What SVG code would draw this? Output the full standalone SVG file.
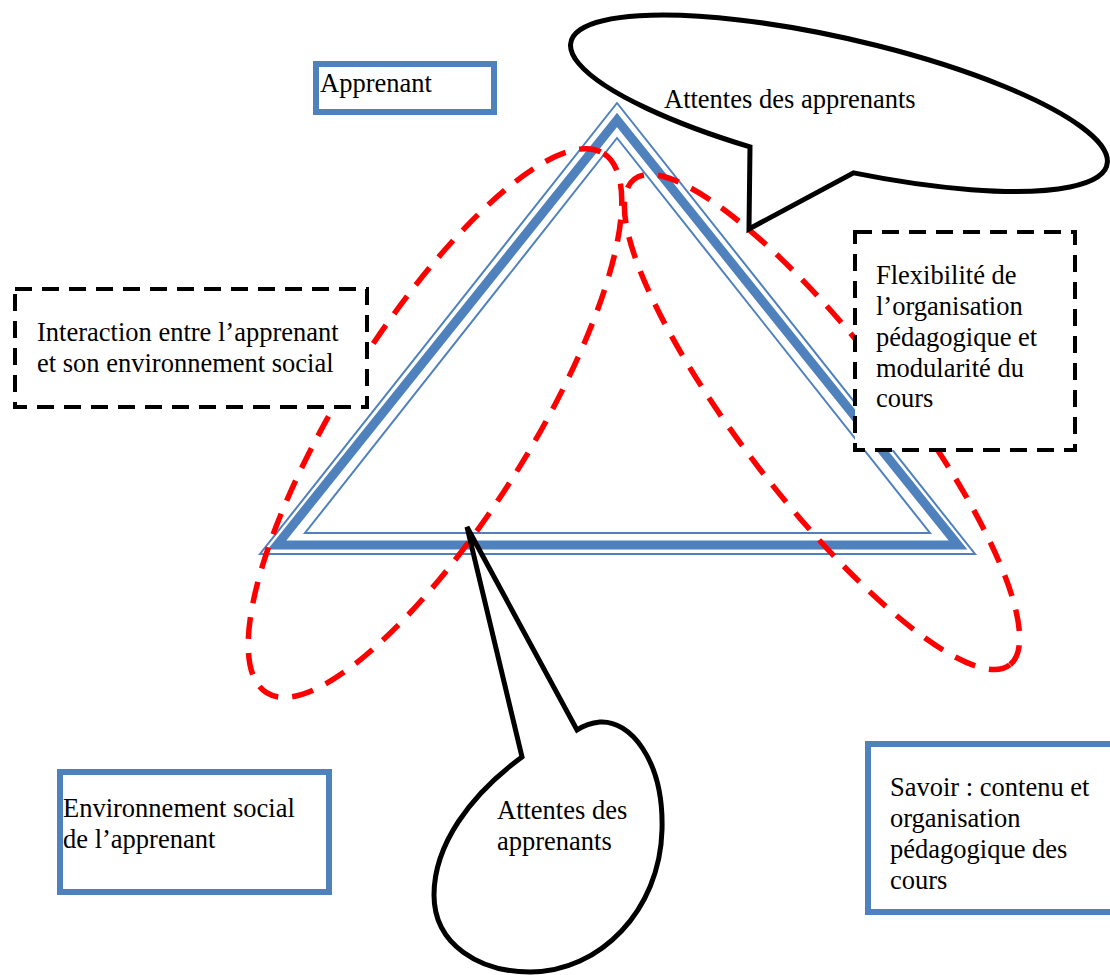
<svg xmlns="http://www.w3.org/2000/svg" width="1110" height="975" viewBox="0 0 1110 975">
  <style>
    .lbl { font-family: "Liberation Serif", "Times New Roman", serif; font-size: 26.5px; fill: #000; }
    .tri { fill: none; stroke: #4F81BD; stroke-linejoin: miter; stroke-miterlimit: 10; }
    .zone { fill: none; stroke: #FF0000; stroke-width: 5.5; stroke-dasharray: 22 14; }
    .bubble { fill: #fff; stroke: #000; stroke-width: 5; stroke-linejoin: miter; }
    .solidbox { fill: #fff; stroke: #4F81BD; stroke-width: 6; }
    .dashbox { fill: #fff; stroke: #000; stroke-width: 4; stroke-dasharray: 17 10; }
  </style>

  <!-- central triangle: thin / thick / thin compound outline -->
  <g id="triangle">
    <polygon class="tri" stroke-width="2" points="617,103 260,554 975,554"/>
    <polygon class="tri" stroke-width="9" points="617,120 277,545 958,545"/>
    <polygon class="tri" stroke-width="2" points="617,138 305,533 930,533"/>
  </g>

  <!-- red dashed zones around the triangle sides -->
  <g id="connectors">
    <ellipse class="zone" cx="435" cy="423" rx="318" ry="95" transform="rotate(-58 435 423)"/>
    <ellipse class="zone" cx="822" cy="422" rx="307" ry="78" transform="rotate(52.3 822 422)"/>
  </g>

  <!-- speech bubble at the top: tilted ellipse (c=840,103.5 r=275x65 @12.9deg) with a tail -->
  <g id="bubble-top">
    <path class="bubble" d="M 750,146.9 A 275 65 12.9 1 1 853.6,172.9 L 749,229 Z"/>
    <text class="lbl" x="664" y="108">Attentes des apprenants</text>
  </g>

  <!-- speech bubble at the bottom -->
  <g id="bubble-bottom">
    <path class="bubble" d="M 522,757 C 470,795 434,845 434,895 C 434,945 480,972 530,972 C 600,972 660,910 662,830 C 664,760 630,720 600,722 C 590,723 583,726 577,730 L 467,527 Z"/>
    <text class="lbl" x="497" y="819">Attentes des</text>
    <text class="lbl" x="497" y="850">apprenants</text>
  </g>

  <g id="apprenant">
    <rect class="solidbox" x="316" y="64" width="178" height="48"/>
    <text class="lbl" x="320" y="92">Apprenant</text>
  </g>

  <g id="interaction">
    <rect class="dashbox" x="15" y="289" width="352" height="118"/>
    <text class="lbl" x="37" y="341">Interaction entre l’apprenant</text>
    <text class="lbl" x="37" y="372">et son environnement social</text>
  </g>

  <g id="flexibilite">
    <rect class="dashbox" x="855" y="232" width="220" height="218"/>
    <text class="lbl" x="876" y="284">Flexibilité de</text>
    <text class="lbl" x="876" y="315">l’organisation</text>
    <text class="lbl" x="876" y="346">pédagogique et</text>
    <text class="lbl" x="876" y="377">modularité du</text>
    <text class="lbl" x="876" y="407">cours</text>
  </g>

  <g id="environnement">
    <rect class="solidbox" x="60" y="772" width="269" height="120"/>
    <text class="lbl" x="63" y="817">Environnement social</text>
    <text class="lbl" x="63" y="848">de l’apprenant</text>
  </g>

  <g id="savoir">
    <rect class="solidbox" x="868" y="744" width="260" height="168"/>
    <text class="lbl" x="890" y="796">Savoir : contenu et</text>
    <text class="lbl" x="890" y="827">organisation</text>
    <text class="lbl" x="890" y="858">pédagogique des</text>
    <text class="lbl" x="890" y="889">cours</text>
  </g>
</svg>
